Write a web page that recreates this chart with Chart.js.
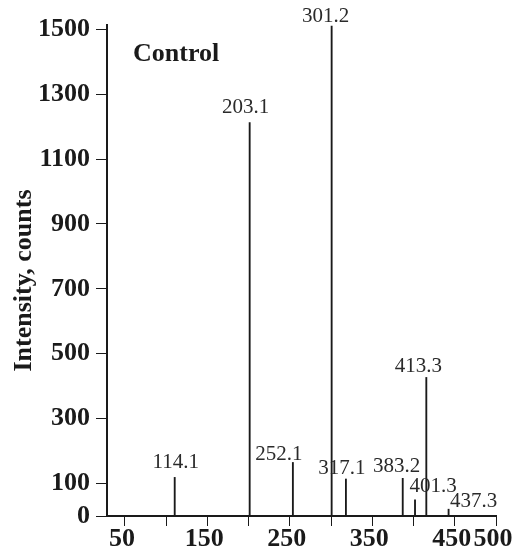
<!DOCTYPE html>
<html>
<head>
<meta charset="utf-8">
<script src="https://cdn.jsdelivr.net/npm/chart.js@4.4.1/dist/chart.umd.min.js"></script>
<style>
html, body { margin: 0; padding: 0; background: #fff; }
#wrap { width: 518px; height: 556px; }
</style>
</head>
<body>
<div id="wrap"><canvas id="spectrum"></canvas></div>
<script>
// Peak data (x = plotted m/z position, y = counts)
const peakMz = [110.4, 201.3, 253.7, 300.7, 318.0, 386.9, 401.8, 415.5, 442.5];
const peakIntensity = [119, 1212, 165, 1510, 114, 116, 50, 427, 21];
const peakLabels = ['114.1', '203.1', '252.1', '301.2', '317.1', '383.2', '401.3', '413.3', '437.3'];

// Axis ticks
const xTickValues = [50, 100, 150, 200, 250, 300, 350, 400, 450, 500];
const xTickLabels = ['50', '', '150', '', '250', '', '350', '', '450', '500'];
const yTickValues = [0, 100, 300, 500, 700, 900, 1100, 1300, 1500];

// Where each peak label sits relative to its line (px)
const labelShiftX = [1, -4, -14, -6, -4, -6, 18, -8, 25];
const labelGap = [9, 10, 2, 4, 5, 6, 8, 5, 2];

const serif = "'Liberation Serif', 'Times New Roman', serif";
const ink = '#1a1a1a';

// Draws the m/z labels above the peaks, the "Control" tag and the y title
const peakLabelPlugin = {
    id: 'peakLabels',
    afterDatasetsDraw(chart) {
        const ctx = chart.ctx;
        const area = chart.chartArea;
        const meta = chart.getDatasetMeta(0);
        ctx.save();
        ctx.font = '21px ' + serif;
        ctx.fillStyle = '#2a2a2a';
        ctx.textAlign = 'center';
        ctx.textBaseline = 'alphabetic';
        meta.data.forEach((bar, i) => {
            ctx.fillText(peakLabels[i], bar.x + labelShiftX[i], bar.y - labelGap[i]);
        });

        ctx.font = 'bold 26px ' + serif;
        ctx.fillStyle = ink;
        ctx.textAlign = 'left';
        ctx.fillText('Control', area.left + 26, area.top + 36);

        // y axis title, sits a little below the middle of the axis
        ctx.translate(area.left - 83, (area.top + area.bottom) / 2 + 10);
        ctx.rotate(-Math.PI / 2);
        ctx.textAlign = 'center';
        ctx.textBaseline = 'middle';
        ctx.fillText('Intensity, counts', 0, 0);
        ctx.restore();
    }
};

const ctx = document.getElementById('spectrum').getContext('2d');

new Chart(ctx, {
    type: 'bar',
    data: {
        datasets: [{
            data: peakMz.map((mz, i) => ({ x: mz, y: peakIntensity[i] })),
            backgroundColor: ink,
            borderWidth: 0,
            barThickness: 1.2
        }]
    },
    options: {
        responsive: true,
        maintainAspectRatio: false,
        animation: false,
        layout: {
            padding: { top: 25, right: 22, left: 0, bottom: 0 }
        },
        plugins: {
            legend: { display: false },
            tooltip: { enabled: false }
        },
        scales: {
            x: {
                type: 'linear',
                offset: false,
                min: 28.3,
                max: 500,
                afterBuildTicks: (scale) => {
                    scale.ticks = xTickValues.map(v => ({ value: v }));
                },
                afterFit: (scale) => {
                    scale.height = 40;
                },
                grid: {
                    offset: false,
                    drawOnChartArea: false,
                    drawTicks: true,
                    tickLength: 10,
                    color: ink,
                    lineWidth: 1
                },
                border: { display: true, color: ink, width: 2 },
                ticks: {
                    autoSkip: false,
                    maxRotation: 0,
                    padding: -2,
                    labelOffset: -3,
                    color: ink,
                    font: { family: serif, size: 26, weight: 'bold' },
                    callback: (value) => xTickLabels[xTickValues.indexOf(value)]
                }
            },
            y: {
                min: 0,
                max: 1513,
                afterBuildTicks: (scale) => {
                    scale.ticks = yTickValues.map(v => ({ value: v }));
                },
                afterFit: (scale) => {
                    scale.width = 107;
                },
                grid: {
                    drawOnChartArea: false,
                    drawTicks: true,
                    tickLength: 11,
                    color: ink,
                    lineWidth: 1
                },
                border: { display: true, color: ink, width: 2 },
                ticks: {
                    padding: 6,
                    color: ink,
                    font: { family: serif, size: 26, weight: 'bold' },
                    callback: (value) => String(value)
                }
            }
        }
    },
    plugins: [peakLabelPlugin]
});
</script>
</body>
</html>
